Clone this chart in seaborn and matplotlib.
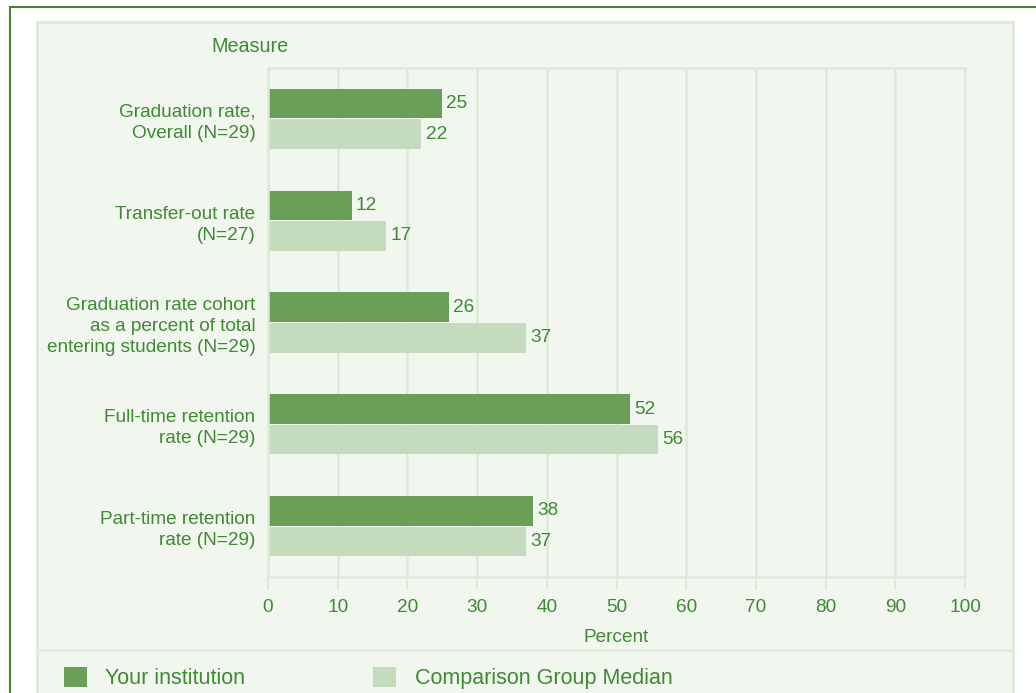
import matplotlib
matplotlib.use('Agg')
import pandas as pd
import matplotlib.pyplot as plt
import seaborn as sns
from matplotlib.patches import Rectangle, Patch
from matplotlib.lines import Line2D

measures = ["Graduation rate,\nOverall (N=29)",
            "Transfer-out rate\n(N=27)",
            "Graduation rate cohort\nas a percent of total\nentering students (N=29)",
            "Full-time retention\nrate (N=29)",
            "Part-time retention\nrate (N=29)"]
your_institution = [25, 12, 26, 52, 38]
comparison_median = [22, 17, 37, 56, 37]
series = ["Your institution", "Comparison Group Median"]
x_ticks = [0, 10, 20, 30, 40, 50, 60, 70, 80, 90, 100]

text_green = '#3f8a33'
dark = '#6a9f58'
light = '#c5dbbe'
panel = '#f1f6ef'
grid_c = '#dde9d9'

df = pd.DataFrame({
    'Measure': measures * 2,
    'Percent': your_institution + comparison_median,
    'Series': [series[0]] * len(measures) + [series[1]] * len(measures),
})

sns.set_theme(style='white')
plt.rcParams['font.family'] = ['Liberation Sans', 'DejaVu Sans']
fs = 13.7

fig = plt.figure(figsize=(10.36, 6.93), dpi=100)
fig.patch.set_facecolor('white')

# outer frame and inner panel
fig.patches.append(Rectangle((10 / 1036, -0.05), 1.2, 1.05 - 7 / 693, transform=fig.transFigure,
                             fill=False, ec='#4b8236', lw=1.5, zorder=-20))
fig.patches.append(Rectangle((37 / 1036, -0.05), (1013 - 37) / 1036, 1.05 - 22 / 693,
                             transform=fig.transFigure, fc=panel, ec=grid_c, lw=2, zorder=-10))
fig.lines.append(Line2D([37 / 1036, 1013 / 1036], [1 - 650 / 693] * 2, transform=fig.transFigure,
                        color=grid_c, lw=2, zorder=-5))

ax = fig.add_axes([268 / 1036, 1 - 577 / 693, (965 - 268) / 1036, (577 - 68) / 693])
ax.set_facecolor(panel)
sns.barplot(data=df, y='Measure', x='Percent', hue='Series', palette=[dark, light],
            orient='h', width=0.6, gap=0.03, saturation=1, legend=False, linewidth=0, ax=ax)

for c in ax.containers:
    ax.bar_label(c, padding=3, color=text_green, fontsize=fs)

ax.set_xlim(0, 100)
ax.set_xticks(x_ticks)
ax.xaxis.grid(True, color=grid_c, lw=1.8)
ax.set_axisbelow(True)
for s in ax.spines.values():
    s.set_color(grid_c)
    s.set_linewidth(1.8)
ax.tick_params(axis='x', bottom=True, length=9, width=1.5, color=grid_c, pad=7,
               labelcolor=text_green, labelsize=fs)
ax.tick_params(axis='y', left=False, length=0, pad=9, labelcolor=text_green, labelsize=fs)
for lab in ax.get_yticklabels():
    lab.set_linespacing(1.3)
ax.set_ylabel('')
ax.set_xlabel('Percent', color=text_green, fontsize=fs, labelpad=9)

fig.text(250 / 1036, 1 - 47 / 693, 'Measure', ha='center', va='center', color=text_green,
         fontsize=fs + 0.5)

handles = [Patch(facecolor=dark, edgecolor='none'), Patch(facecolor=light, edgecolor='none')]
fig.legend(handles, series, loc='center left', bbox_to_anchor=(64 / 1036, 1 - 678 / 693),
           ncol=2, frameon=False, borderpad=0, borderaxespad=0, handlelength=1.07,
           handleheight=1.07, handletextpad=0.85, columnspacing=5.95, fontsize=15.5,
           labelcolor=text_green)

fig.savefig('out.png', dpi=100, facecolor='white')
